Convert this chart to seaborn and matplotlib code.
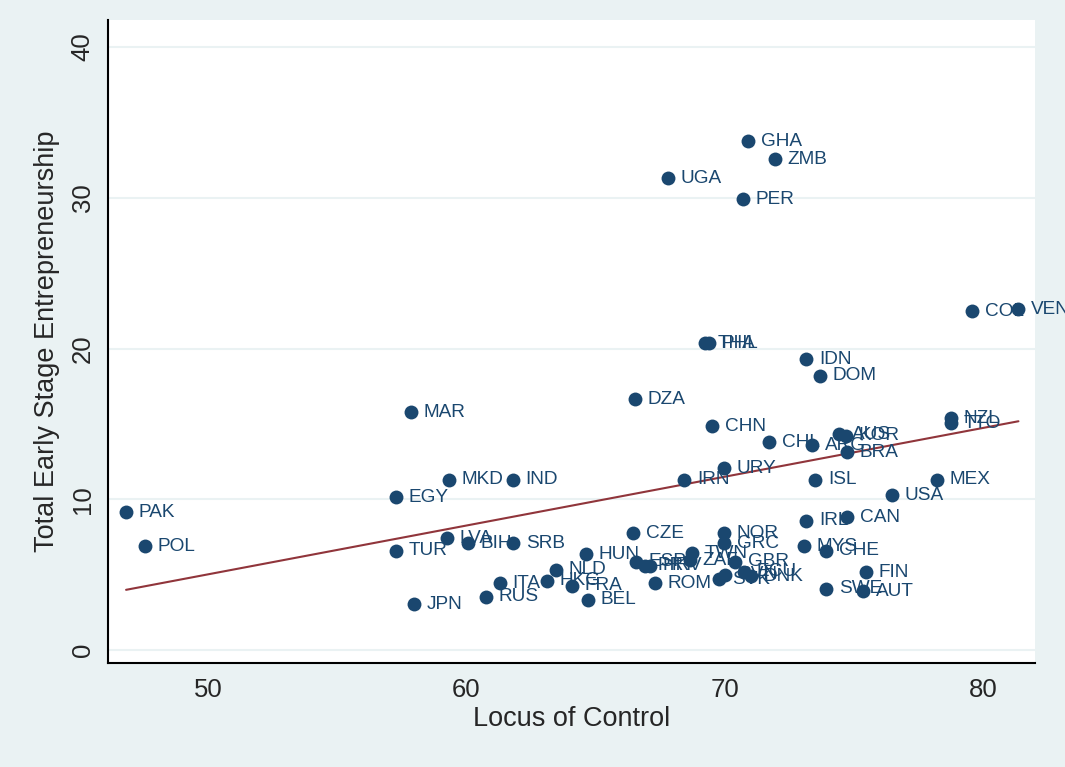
import numpy as np
import pandas as pd
import matplotlib
matplotlib.use("Agg")
import matplotlib.pyplot as plt
import seaborn as sns

countries = ["PAK", "POL", "TUR", "EGY", "MAR", "JPN", "LVA", "BIH", "MKD", "IND",
             "SRB", "ITA", "RUS", "NLD", "HKG", "FRA", "BEL", "HUN", "CZE", "ESP",
             "PRT", "HRV", "ROM", "TWN", "ZAF", "GRC", "NOR", "GBR", "ECU", "DNK",
             "SVK", "SVN", "IRL", "MYS", "CHE", "SWE", "FIN", "AUT", "CAN", "USA",
             "MEX", "ISL", "IRN", "URY", "CHN", "CHL", "ARG", "AUS", "KOR", "BRA",
             "DZA", "IDN", "DOM", "THA", "PHL", "UGA", "GHA", "ZMB", "PER", "COL",
             "VEN", "NZL", "TTO"]
locus = [46.83, 47.56, 57.28, 57.28, 57.86, 57.98, 59.25, 60.07, 59.33, 61.81,
         61.81, 61.30, 60.76, 63.47, 63.12, 64.09, 64.71, 64.63, 66.45, 66.57,
         66.92, 67.10, 67.31, 68.74, 68.66, 69.98, 69.98, 70.40, 70.75, 71.00,
         69.78, 70.01, 73.15, 73.07, 73.93, 73.93, 75.47, 75.36, 74.74, 76.48,
         78.22, 73.50, 68.43, 69.98, 69.51, 71.72, 73.38, 74.43, 74.70, 74.74,
         66.53, 73.15, 73.69, 69.24, 69.40, 67.81, 70.90, 71.95, 70.71, 79.58,
         81.36, 78.76, 78.76]
tea = [9.15, 6.90, 6.57, 10.15, 15.79, 3.05, 7.43, 7.10, 11.28, 11.28,
       7.10, 4.44, 3.52, 5.31, 4.58, 4.25, 3.32, 6.37, 7.76, 5.84,
       5.60, 5.60, 4.44, 6.43, 5.97, 7.10, 7.76, 5.84, 5.20, 4.90,
       4.71, 4.98, 8.56, 6.90, 6.57, 4.05, 5.17, 3.91, 8.82, 10.28,
       11.28, 11.28, 11.28, 12.07, 14.86, 13.80, 13.60, 14.33, 14.20, 13.13,
       16.65, 19.30, 18.18, 20.36, 20.36, 31.31, 33.76, 32.57, 29.92, 22.49,
       22.62, 15.39, 15.06]

df = pd.DataFrame({"country": countries, "locus": locus, "tea": tea})

navy = "#1a476f"
maroon = "#90353b"
bg = "#eaf2f3"

sns.set_style("white")
plt.rcParams["font.family"] = ["Liberation Sans", "DejaVu Sans"]

fig = plt.figure(figsize=(10.65, 7.67), dpi=100, facecolor=bg)
ax = fig.add_axes([0.1014, 0.1356, 0.8704, 0.8384])
ax.set_facecolor("white")

# faint horizontal grid like Stata
for yv in [0, 10, 20, 30, 40]:
    ax.axhline(yv, color=bg, linewidth=1.5, zorder=0)

sns.scatterplot(data=df, x="locus", y="tea", color=navy, s=100,
                edgecolor=navy, linewidth=0, ax=ax, zorder=3)

for _, row in df.iterrows():
    ax.annotate(row["country"], (row["locus"], row["tea"]),
                xytext=(9, 0), textcoords="offset points",
                ha="left", va="center", fontsize=13.7, color=navy, zorder=4)

# linear fit
slope, intercept = np.polyfit(df["locus"], df["tea"], 1)
xs = np.array([df["locus"].min(), df["locus"].max()])
ax.plot(xs, intercept + slope * xs, color=maroon, linewidth=1.5, zorder=2)

ax.set_xlim(46.13, 82.0)
ax.set_ylim(-0.86, 41.8)
ax.set_xticks([50, 60, 70, 80])
ax.set_yticks([0, 10, 20, 30, 40])
ax.tick_params(axis="both", which="major", length=7.5, width=1.2, direction="out",
               labelsize=18.5, color="black", pad=3)
ax.tick_params(axis="y", labelrotation=90, pad=2)
for lab in ax.get_yticklabels():
    lab.set_verticalalignment("center")

for side in ["top", "right"]:
    ax.spines[side].set_visible(False)
for side in ["left", "bottom"]:
    ax.spines[side].set_color("black")
    ax.spines[side].set_linewidth(1.5)

ax.set_xlabel("Locus of Control", fontsize=19.5, labelpad=3)
ax.set_ylabel("Total Early Stage Entrepreneurship", fontsize=19.5, labelpad=8)

fig.savefig("out.png", dpi=100, facecolor=bg)
